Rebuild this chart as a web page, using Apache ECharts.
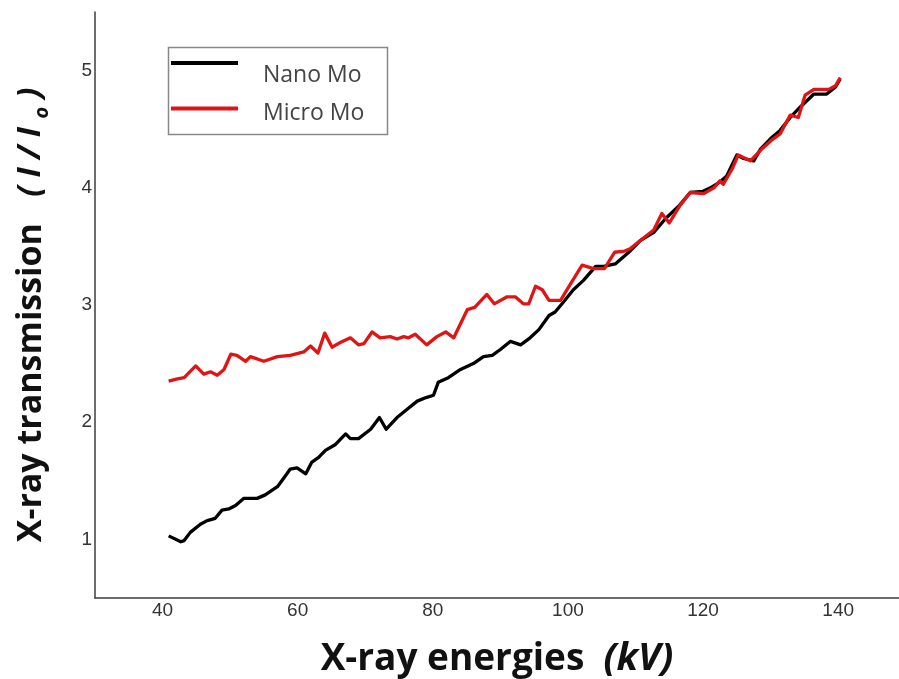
<!DOCTYPE html>
<html>
<head>
<meta charset="utf-8">
<script src="https://cdn.jsdelivr.net/npm/echarts@6/dist/echarts.min.js"></script>
<style>html,body{margin:0;padding:0;background:#fff;}#c{width:899px;height:679px;}</style>
</head>
<body>
<div id="c"></div>
<script>
const seriesNames = ['Nano Mo', 'Micro Mo'];
const xTickLabels = [40, 60, 80, 100, 120, 140];
const yTickLabels = [1, 2, 3, 4, 5];

const nanoEnergy = [40.9,42.7,43.2,44.1,45.6,46.6,47.8,48.8,49.8,50.8,52.0,54.0,55.2,57.0,57.9,58.9,59.9,61.2,62.1,63.1,64.1,65.6,67.1,67.8,69.0,70.8,72.1,73.1,74.7,76.2,77.7,79.0,80.1,80.8,82.3,84.1,86.0,87.5,88.8,90.0,91.5,93.0,94.4,95.7,97.2,98.1,99.4,100.8,102.3,104.1,105.3,107.0,109.0,110.7,112.7,114.5,116.5,118.1,120.0,121.1,122.5,123.5,125.0,126.0,127.5,128.5,130.0,131.4,132.9,134.4,136.4,138.3,139.6,140.3];
const nanoValue = [1.03,0.98,0.99,1.06,1.13,1.16,1.18,1.25,1.26,1.29,1.35,1.35,1.38,1.45,1.52,1.60,1.61,1.56,1.66,1.70,1.76,1.81,1.90,1.86,1.86,1.94,2.04,1.94,2.04,2.11,2.18,2.21,2.23,2.34,2.38,2.45,2.50,2.56,2.57,2.62,2.69,2.66,2.72,2.79,2.91,2.94,3.03,3.13,3.21,3.33,3.33,3.35,3.45,3.55,3.62,3.74,3.85,3.96,3.97,4.00,4.05,4.10,4.28,4.25,4.23,4.33,4.42,4.49,4.60,4.69,4.80,4.80,4.86,4.93];

const microEnergy = [40.9,42.2,43.2,44.9,46.1,47.1,48.1,49.1,50.1,51.0,52.3,53.0,55.0,57.0,58.9,60.9,61.9,63.0,64.0,65.1,66.3,67.8,69.0,69.8,71.0,72.2,73.7,74.7,75.7,76.4,77.4,79.1,80.6,81.9,83.1,85.1,86.2,88.0,89.1,91.0,92.2,93.4,94.2,95.2,96.2,97.2,98.9,100.5,102.1,103.8,105.4,106.9,108.4,109.2,110.7,112.7,113.9,115.0,116.6,118.1,120.1,121.6,122.5,123.0,124.3,125.2,127.0,128.5,130.0,131.4,132.9,134.1,135.1,136.4,138.6,139.6,140.3];
const microValue = [2.35,2.37,2.38,2.48,2.41,2.43,2.40,2.45,2.58,2.57,2.52,2.56,2.52,2.56,2.57,2.60,2.65,2.59,2.76,2.64,2.68,2.72,2.66,2.67,2.77,2.72,2.73,2.71,2.73,2.72,2.75,2.66,2.73,2.77,2.72,2.96,2.98,3.09,3.01,3.07,3.07,3.01,3.01,3.16,3.13,3.04,3.04,3.19,3.34,3.31,3.31,3.45,3.46,3.48,3.55,3.64,3.78,3.70,3.85,3.96,3.95,4.00,4.06,4.03,4.16,4.28,4.23,4.32,4.40,4.46,4.62,4.60,4.79,4.84,4.84,4.87,4.94];

const zip = (xs, ys) => xs.map((x, i) => [x, ys[i]]);
const titleFont = 'Open Sans';
const legendText = {fontFamily: 'Open Sans', fontSize: 23, color: '#444'};

const chart = echarts.init(document.getElementById('c'), null, {renderer: 'canvas'});
chart.setOption({
  backgroundColor: '#ffffff',
  animation: false,
  grid: {left: 95, right: 0, top: 12, bottom: 81, containLabel: false, outerBoundsMode: 'none'},
  xAxis: {
    type: 'value', min: 30, max: 149, interval: 10,
    axisLine: {show: true, lineStyle: {color: '#3c3c3c', width: 1.5}},
    axisTick: {show: false}, splitLine: {show: false},
    axisLabel: {
      color: '#333', fontSize: 19, fontFamily: 'Liberation Sans', margin: 3,
      showMinLabel: true, showMaxLabel: true,
      formatter: v => xTickLabels.indexOf(Math.round(v)) >= 0 && Math.abs(v - Math.round(v)) < 1e-6 ? String(Math.round(v)) : ''
    },
    name: '{b|X-ray energies}  {i|(kV)}',
    nameLocation: 'middle', nameGap: 42,
    nameTextStyle: {
      rich: {
        b: {fontFamily: titleFont, fontWeight: 'bold', fontSize: 37, color: '#111'},
        i: {fontFamily: titleFont, fontWeight: 'bold', fontStyle: 'italic', fontSize: 38, color: '#111'}
      },
      fontFamily: titleFont, fontWeight: 'bold', fontSize: 37, color: '#111'
    }
  },
  yAxis: {
    type: 'value', min: 0.5, max: 5.5, interval: 0.5,
    axisLine: {show: true, lineStyle: {color: '#3c3c3c', width: 1.5}},
    axisTick: {show: false}, splitLine: {show: false},
    axisLabel: {
      color: '#333', fontSize: 19, fontFamily: 'Liberation Sans', margin: 3,
      formatter: v => yTickLabels.indexOf(v) >= 0 ? String(v) : ''
    },
    name: '{b|X-ray transmission}   {i|( I / I }{s|o}{i| )}',
    nameLocation: 'middle', nameGap: 43,
    nameTextStyle: {
      padding: [0, 20, 0, 0],
      rich: {
        b: {fontFamily: titleFont, fontWeight: 'bold', fontSize: 34, color: '#111', lineHeight: 42},
        i: {fontFamily: titleFont, fontWeight: 'bold', fontStyle: 'italic', fontSize: 32, color: '#111', lineHeight: 42},
        s: {fontFamily: titleFont, fontWeight: 'bold', fontStyle: 'italic', fontSize: 20, color: '#111', verticalAlign: 'bottom', lineHeight: 10}
      },
      fontFamily: titleFont, fontWeight: 'bold', fontSize: 34, color: '#111'
    }
  },
  legend: [
    {
      data: [seriesNames[0]],
      left: 171, top: 61, padding: 0, icon: 'rect', itemWidth: 67, itemHeight: 4,
      formatter: n => '{t|' + n + '}',
      textStyle: Object.assign({rich: {t: Object.assign({lineHeight: 47, verticalAlign: 'bottom', padding: [0, 0, 0, 20]}, legendText)}}, legendText)
    },
    {
      data: [seriesNames[1]],
      left: 171, top: 102, padding: 0, icon: 'rect', itemWidth: 67, itemHeight: 4,
      formatter: n => '{t|' + n + '}',
      textStyle: Object.assign({rich: {t: Object.assign({lineHeight: 33, verticalAlign: 'bottom', padding: [0, 0, 0, 20]}, legendText)}}, legendText)
    }
  ],
  graphic: [{
    type: 'rect', left: 166, top: 45, silent: true,
    shape: {width: 219, height: 87},
    style: {fill: 'none', stroke: '#888', lineWidth: 1.5}
  }],
  series: [
    {
      name: seriesNames[0], type: 'line', data: zip(nanoEnergy, nanoValue),
      showSymbol: false, symbol: 'none', smooth: false,
      lineStyle: {color: '#000000', width: 3.3, join: 'round'}, itemStyle: {color: '#000000'}, z: 2
    },
    {
      name: seriesNames[1], type: 'line', data: zip(microEnergy, microValue),
      showSymbol: false, symbol: 'none', smooth: false,
      lineStyle: {color: '#e01414', width: 3.3, join: 'round'}, itemStyle: {color: '#e01414'}, z: 3
    }
  ]
});
</script>
</body>
</html>
